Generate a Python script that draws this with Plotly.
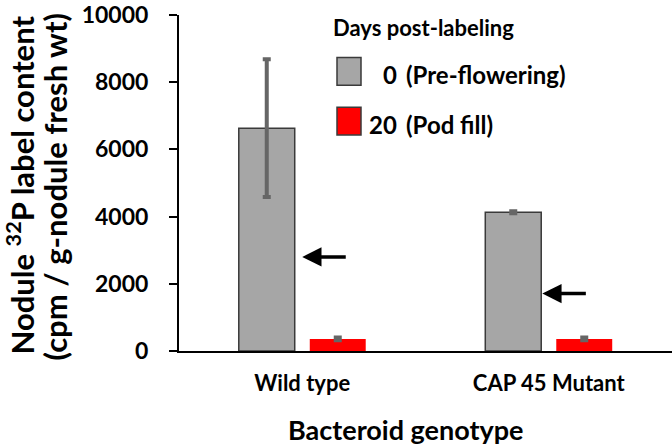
import plotly.graph_objects as go

categories = ["Wild type", "CAP 45 Mutant"]
day0_values = [6630, 4130]
day0_errors = [2050, 30]
day20_values = [360, 360]
day20_errors = [40, 40]
arrow_y = [2800, 1710]
y_ticks = [0, 2000, 4000, 6000, 8000, 10000]

FONT = "Lato"
BAR_W = 0.227
GAP = 0.061

x_idx = list(range(len(categories)))

fig = go.Figure()
fig.add_trace(go.Bar(
    x=x_idx, y=day0_values, width=BAR_W, offset=-BAR_W - GAP / 2,
    marker=dict(color="#a6a6a6", line=dict(color="#3a3a3a", width=1.5)),
    error_y=dict(type="data", array=day0_errors, color="#666666", thickness=4, width=4),
    name="0 (Pre-flowering)", showlegend=False,
))
fig.add_trace(go.Bar(
    x=x_idx, y=day20_values, width=BAR_W, offset=GAP / 2,
    marker=dict(color="#ff0000", line=dict(width=0)),
    error_y=dict(type="data", array=day20_errors, color="#666666", thickness=4, width=4),
    name="20 (Pod fill)", showlegend=False,
))

annotations = []
for i, yv in enumerate(arrow_y):
    annotations.append(dict(
        x=i + (0.0 if i == 0 else -0.026), y=yv, xref="x", yref="y",
        ax=45, ay=0, showarrow=True, arrowhead=2, arrowsize=1.1,
        arrowwidth=3.5, arrowcolor="black", text="",
    ))

fig.update_layout(
    width=672, height=446,
    margin=dict(l=179, r=0, t=12, b=95),
    plot_bgcolor="white", paper_bgcolor="white",
    font=dict(family=FONT, color="black"),
    showlegend=False,
    xaxis=dict(
        tickmode="array", tickvals=x_idx, ticktext=[f"<b>{c}</b>" for c in categories],
        range=[-0.5, 1.5], showline=True, linecolor="black", linewidth=2,
        ticks="", tickfont=dict(family=FONT, size=22, color="black"),
        ticklabelstandoff=12,
        showgrid=False, zeroline=False,
    ),
    yaxis=dict(
        range=[0, 10000], tickmode="array", tickvals=y_ticks,
        ticktext=[f"<b>{v}</b>" for v in y_ticks],
        showline=True, linecolor="black", linewidth=2,
        ticks="outside", ticklen=8, tickwidth=2, tickcolor="black",
        tickfont=dict(family=FONT, size=23, color="black"),
        ticklabelstandoff=16, ticklabeloverflow="allow",
        showgrid=False, zeroline=False,
    ),
)

# Pixel-based paper coordinates for titles and the custom legend
W, H = 672, 446
pw, ph = W - 179, H - 12 - 95
def px(xp):
    return (xp - 179) / pw
def py(yp):
    return 1 - (yp - 12) / ph

shapes = [
    dict(type="rect", xref="paper", yref="paper", x0=px(337), x1=px(361), y0=py(83), y1=py(55),
         fillcolor="#a6a6a6", line=dict(color="#3a3a3a", width=1.5)),
    dict(type="rect", xref="paper", yref="paper", x0=px(337), x1=px(361), y0=py(133), y1=py(105),
         fillcolor="#ff0000", line=dict(color="#3a3a3a", width=1.5)),
]
annotations += [
    # axis titles
    dict(x=px(406), y=py(430), xref="paper", yref="paper", xanchor="center", yanchor="middle",
         text="<b>Bacteroid genotype</b>", showarrow=False, font=dict(family=FONT, size=27)),
    dict(x=px(20), y=py(184), xref="paper", yref="paper", xanchor="center", yanchor="middle",
         textangle=-90, text="<b>Nodule <sup>32</sup>P label content</b>", showarrow=False,
         font=dict(family=FONT, size=31)),
    dict(x=px(55), y=py(186), xref="paper", yref="paper", xanchor="center", yanchor="middle",
         textangle=-90, text="<b>(cpm / g-nodule fresh wt)</b>", showarrow=False,
         font=dict(family=FONT, size=31)),
    # legend texts
    dict(x=px(331), y=py(25), xref="paper", yref="paper", xanchor="left", yanchor="middle",
         text="<b>Days post-labeling</b>", showarrow=False, font=dict(family=FONT, size=22)),
    dict(x=px(399), y=py(72), xref="paper", yref="paper", xanchor="right", yanchor="middle",
         text="<b>0</b>", showarrow=False, font=dict(family=FONT, size=24)),
    dict(x=px(399), y=py(122), xref="paper", yref="paper", xanchor="right", yanchor="middle",
         text="<b>20</b>", showarrow=False, font=dict(family=FONT, size=24)),
    dict(x=px(404), y=py(72), xref="paper", yref="paper", xanchor="left", yanchor="middle",
         text="<b>(Pre-flowering)</b>", showarrow=False, font=dict(family=FONT, size=24)),
    dict(x=px(404), y=py(122), xref="paper", yref="paper", xanchor="left", yanchor="middle",
         text="<b>(Pod fill)</b>", showarrow=False, font=dict(family=FONT, size=24)),
]
fig.update_layout(shapes=shapes, annotations=annotations)

fig.write_html("out.html")
